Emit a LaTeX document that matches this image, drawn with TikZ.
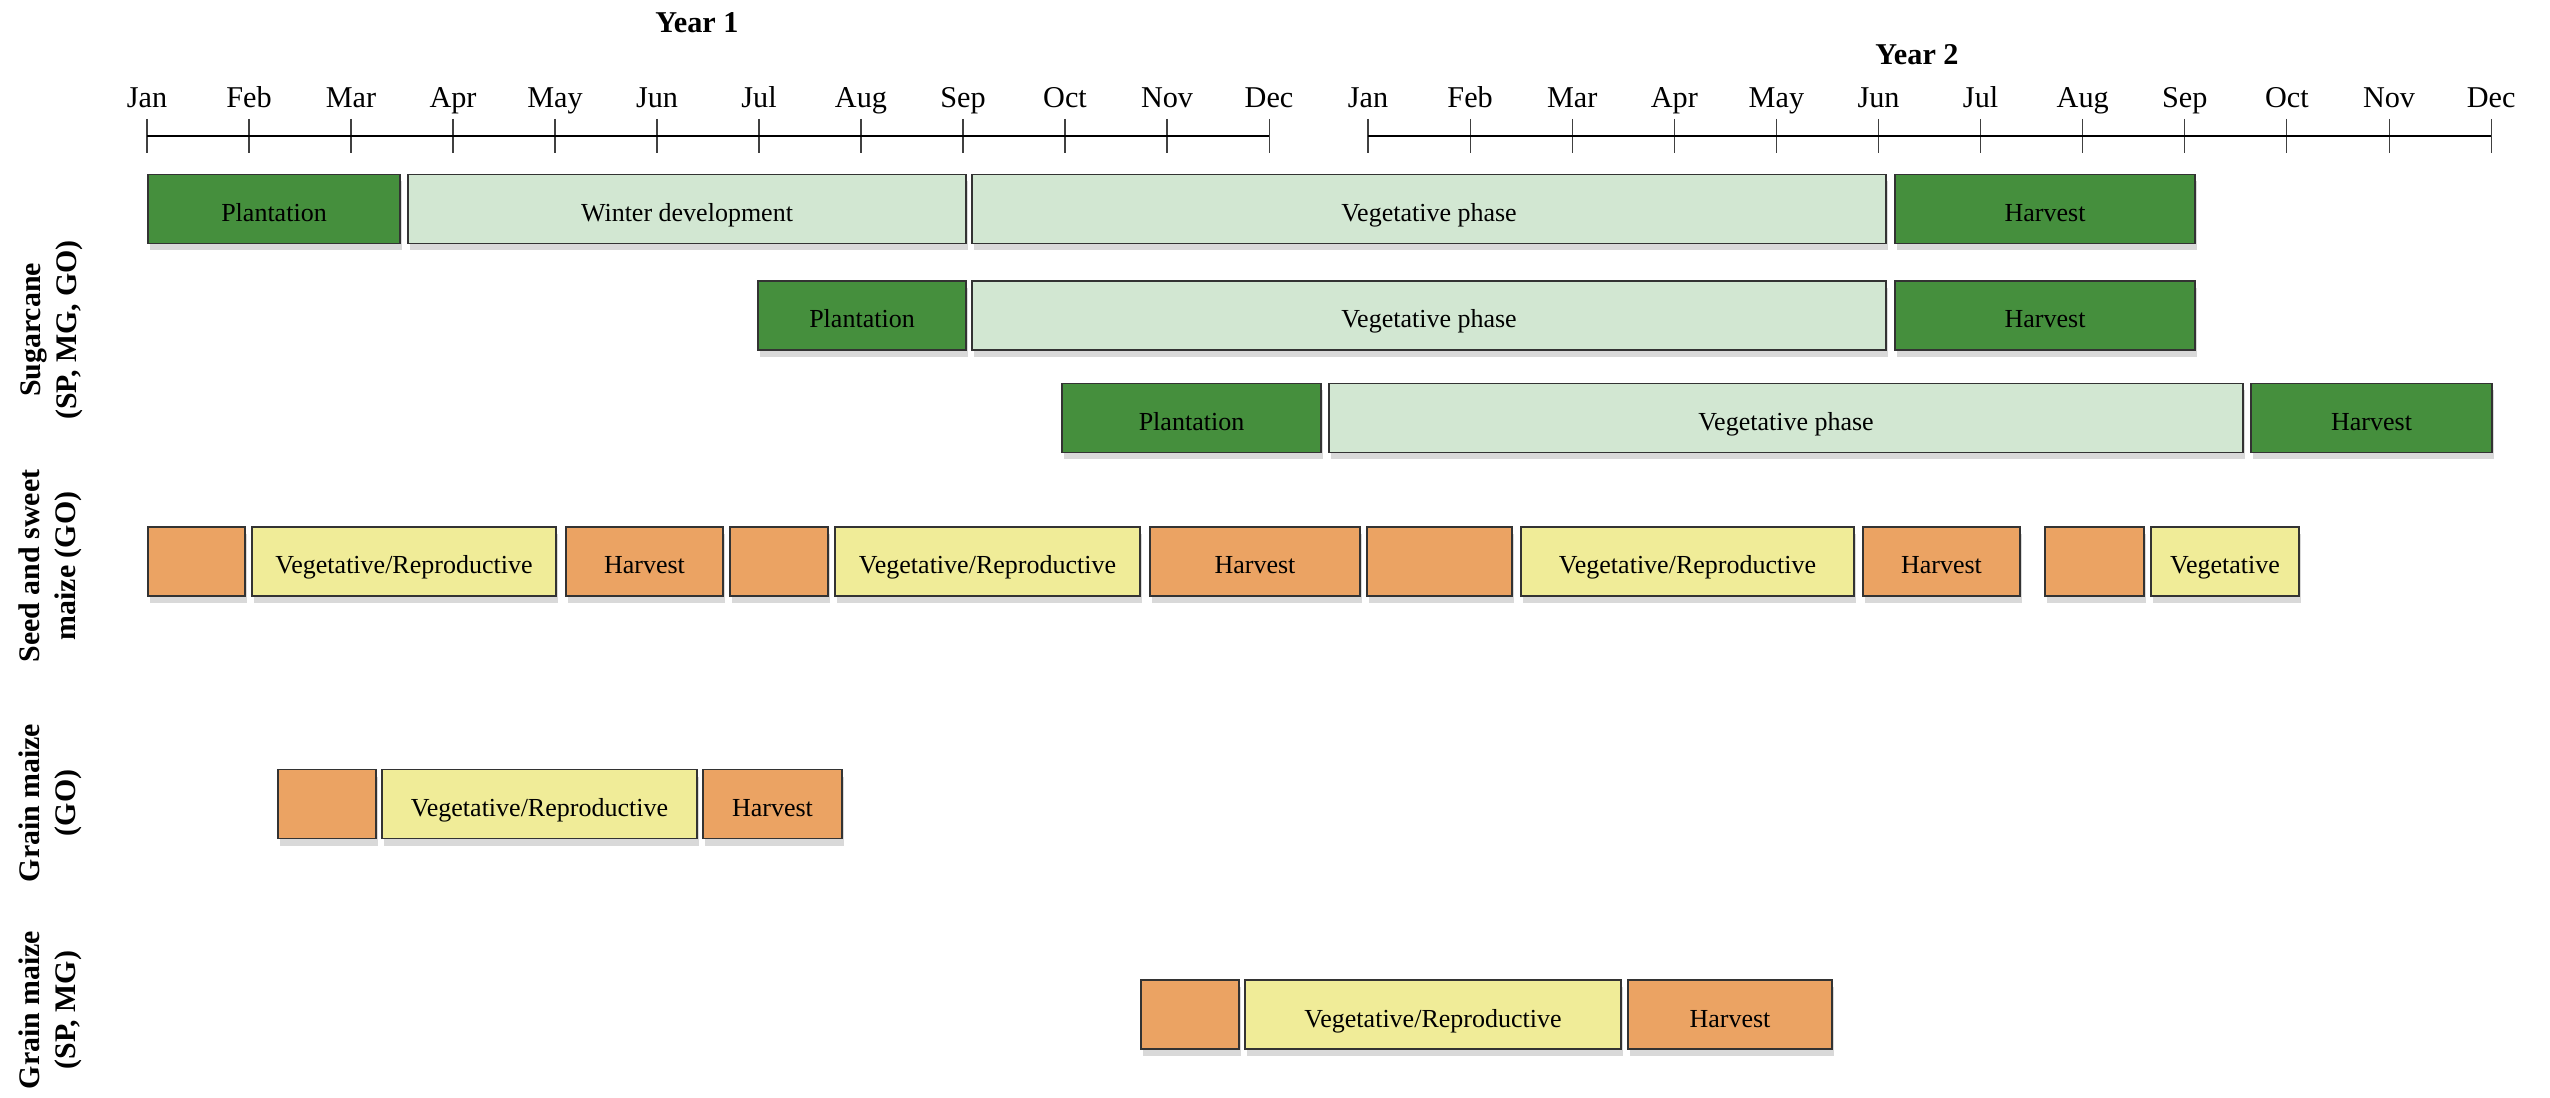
\documentclass[tikz,border=0pt]{standalone}
\usepackage{fontspec}
\setmainfont{Liberation Serif}
\usetikzlibrary{shadows}
\definecolor{canedark}{RGB}{69,143,61}
\definecolor{canelight}{RGB}{210,231,210}
\definecolor{maizeorange}{RGB}{235,163,99}
\definecolor{maizeyellow}{RGB}{240,236,152}
\tikzset{
	% phase boxes of the crop calendar
	phase/.style={rectangle,draw=black!80,line width=0.4pt,minimum height=0.69cm,inner sep=0pt,
		text height=0.25cm,text depth=0pt,font=\fontsize{7.4}{9}\selectfont,
		drop shadow={shadow xshift=0.02cm,shadow yshift=-0.07cm,opacity=0.3}},
	dark phase/.style={phase,fill=canedark},
	light phase/.style={phase,fill=canelight},
	sow phase/.style={phase,fill=maizeorange},
	grow phase/.style={phase,fill=maizeyellow},
	% month names and crop names
	month label/.style={anchor=base,inner sep=0pt,font=\fontsize{8.6}{10}\selectfont},
	year label/.style={font=\fontsize{8.6}{10}\selectfont\bfseries},
	crop label/.style={rotate=90,align=center,font=\fontsize{8.5}{10.2}\selectfont\bfseries},
	month tick/.style={line width=0.3pt,draw=black!75}
}

\begin{document}
\begin{tikzpicture}

\useasboundingbox (0,0) rectangle (25.5,-10.98);

% time axis, two years
\node[year label] (year1) at (6.97,-0.23) {Year 1};
\node[year label] (year2) at (19.17,-0.55) {Year 2};
\foreach \m [count=\i from 0] in {Jan,Feb,Mar,Apr,May,Jun,Jul,Aug,Sep,Oct,Nov,Dec} {
	\node[month label] (a\i) at ({1.47+1.02*\i},-1.08) {\m};
	\node[month label] (b\i) at ({13.68+1.021*\i},-1.08) {\m};
	\draw[month tick] ({1.47+1.02*\i},-1.19) -- ++(0,-0.34);
	\draw[month tick] ({13.68+1.021*\i},-1.19) -- ++(0,-0.34);
}
\draw[line width=0.5pt] (1.47,-1.36) -- (12.69,-1.36);
\draw[line width=0.5pt] (13.68,-1.36) -- (24.91,-1.36);

% crop names
\node[crop label] (cane) at (0.52,-3.30) {Sugarcane\\(SP, MG, GO)};
\node[crop label] (seed) at (0.50,-5.66) {Seed and sweet\\maize (GO)};
\node[crop label] (graingo) at (0.50,-8.03) {Grain maize\\(GO)};
\node[crop label] (grainsp) at (0.50,-10.10) {Grain maize\\(SP, MG)};

% sugarcane
\node[dark phase,minimum width=2.52cm] (plant1) at (2.74,-2.09) {Plantation};
\node[light phase,minimum width=5.58cm] (winter1) at (6.87,-2.09) {Winter development};
\node[light phase,minimum width=9.14cm] (veg1) at (14.29,-2.09) {Vegetative phase};
\node[dark phase,minimum width=3.00cm] (harv1) at (20.45,-2.09) {Harvest};

\node[dark phase,minimum width=2.08cm] (plant2) at (8.62,-3.155) {Plantation};
\node[light phase,minimum width=9.14cm] (veg2) at (14.29,-3.155) {Vegetative phase};
\node[dark phase,minimum width=3.00cm] (harv2) at (20.45,-3.155) {Harvest};

\node[dark phase,minimum width=2.59cm] (plant3) at (11.915,-4.18) {Plantation};
\node[light phase,minimum width=9.14cm] (veg3) at (17.86,-4.18) {Vegetative phase};
\node[dark phase,minimum width=2.41cm] (harv3) at (23.715,-4.18) {Harvest};

% seed and sweet maize
\node[sow phase,minimum width=0.97cm] (s1) at (1.965,-5.615) {};
\node[grow phase,minimum width=3.04cm] (s2) at (4.04,-5.615) {Vegetative/Reproductive};
\node[sow phase,minimum width=1.57cm] (s3) at (6.445,-5.615) {Harvest};
\node[sow phase,minimum width=0.98cm] (s4) at (7.79,-5.615) {};
\node[grow phase,minimum width=3.05cm] (s5) at (9.875,-5.615) {Vegetative/Reproductive};
\node[sow phase,minimum width=2.10cm] (s6) at (12.55,-5.615) {Harvest};
\node[sow phase,minimum width=1.45cm] (s7) at (14.395,-5.615) {};
\node[grow phase,minimum width=3.33cm] (s8) at (16.875,-5.615) {Vegetative/Reproductive};
\node[sow phase,minimum width=1.57cm] (s9) at (19.415,-5.615) {Harvest};
\node[sow phase,minimum width=0.99cm] (s10) at (20.945,-5.615) {};
\node[grow phase,minimum width=1.48cm] (s11) at (22.25,-5.615) {Vegetative};

% grain maize GO
\node[sow phase,minimum width=0.98cm] (g1) at (3.27,-8.04) {};
\node[grow phase,minimum width=3.15cm] (g2) at (5.395,-8.04) {Vegetative/Reproductive};
\node[sow phase,minimum width=1.39cm] (g3) at (7.725,-8.04) {Harvest};

% grain maize SP, MG
\node[sow phase,minimum width=0.98cm] (m1) at (11.90,-10.145) {};
\node[grow phase,minimum width=3.76cm] (m2) at (14.33,-10.145) {Vegetative/Reproductive};
\node[sow phase,minimum width=2.04cm] (m3) at (17.30,-10.145) {Harvest};

\end{tikzpicture}
\end{document}
